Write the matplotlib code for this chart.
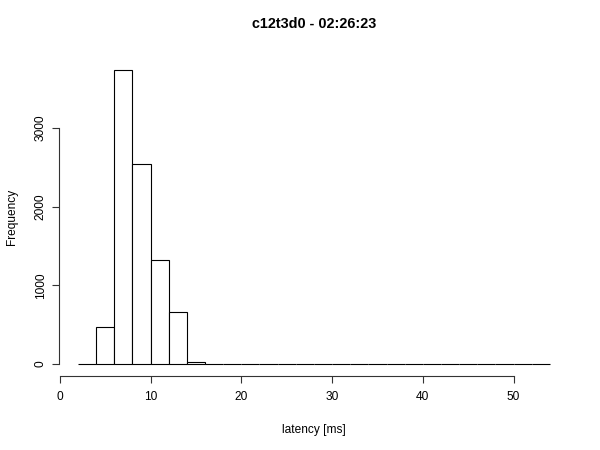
import numpy as np
import matplotlib
matplotlib.use("Agg")
import matplotlib.pyplot as plt

# histogram bins (2 ms wide) and counts
bin_edges = list(range(2, 56, 2))
counts = [3, 470, 3735, 2548, 1320, 667, 22, 6, 3, 2, 1, 1, 1, 0, 1, 0,
          1, 0, 0, 1, 0, 0, 0, 1, 0, 1]

x_ticks = [0, 10, 20, 30, 40, 50]
y_ticks = [0, 1000, 2000, 3000]

plt.rcParams["font.family"] = ["Liberation Sans", "DejaVu Sans"]

fig = plt.figure(figsize=(6, 4.5), dpi=100)
ax = fig.add_axes([0.0985, 0.165, 0.8495, 0.705])

left = np.array(bin_edges[:-1])
ax.bar(left, counts, width=2, align="edge", color="white",
       edgecolor="black", linewidth=0.8)

span = bin_edges[-1] - bin_edges[0]
ax.set_xlim(bin_edges[0] - 0.04 * span, bin_edges[-1] + 0.04 * span)
ymax = max(counts)
ax.set_ylim(-0.04 * ymax, ymax * 1.04)

for side in ["top", "right"]:
    ax.spines[side].set_visible(False)
ax.spines["left"].set_bounds(y_ticks[0], y_ticks[-1])
ax.spines["bottom"].set_bounds(x_ticks[0], x_ticks[-1])
for side in ["left", "bottom"]:
    ax.spines[side].set_linewidth(0.8)
    ax.spines[side].set_color("#333333")

ax.set_xticks(x_ticks)
ax.set_yticks(y_ticks)
ax.set_yticklabels([str(v) for v in y_ticks], rotation=90, va="center")
ax.tick_params(direction="out", length=5, width=0.8, labelsize=8.6,
               color="#333333")
ax.tick_params(axis="x", pad=6)
ax.tick_params(axis="y", pad=4)

ax.set_title("c12t3d0 - 02:26:23", fontsize=10.4, fontweight="bold", pad=22)
ax.set_xlabel("latency [ms]", fontsize=8.6, labelpad=15)
ax.set_ylabel("Frequency", fontsize=8.6, labelpad=12)

fig.savefig("out.png", dpi=100)
